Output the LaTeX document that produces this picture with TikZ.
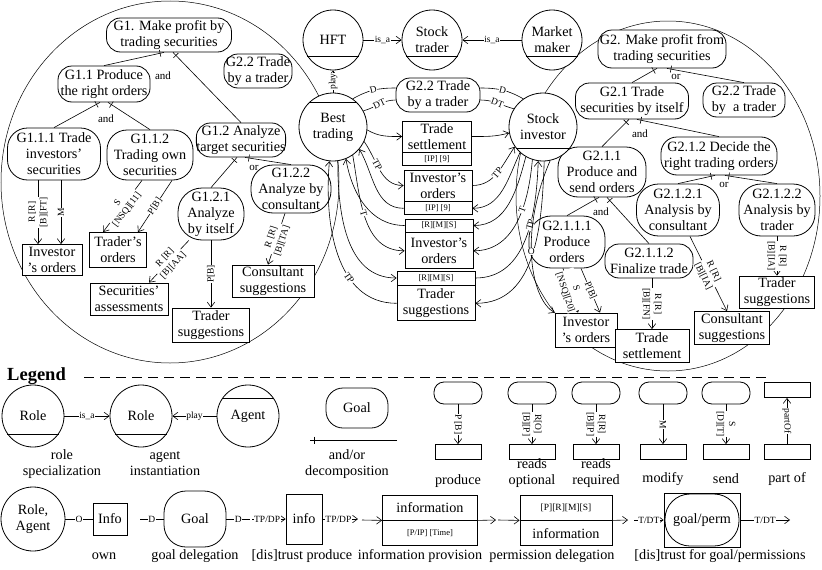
\documentclass[tikz,border=0pt]{standalone}
\usepackage{fontspec}
\setmainfont{Liberation Serif}
\usetikzlibrary{arrows.meta,decorations.markings,calc}
\newcommand\fmain{\fontsize{14.2}{16}\selectfont}
\newcommand\fsm{\fontsize{9.5}{11.5}\selectfont}
\newcommand\ftn{\fontsize{8.5}{9.5}\selectfont}
\newcommand\fand{\fontsize{11}{12}\selectfont}
\begin{document}
\begin{tikzpicture}[x=1pt,y=1pt,
 goal/.style={draw,fill=white,rectangle,rounded corners=14pt,line width=0.8pt,align=center,inner sep=0pt,font=\fmain},
 role/.style={draw,fill=white,circle,line width=0.8pt,align=center,inner sep=0pt,minimum size=60pt,font=\fmain},
 infob/.style={draw,fill=white,rectangle,line width=0.8pt,align=center,inner sep=0pt,font=\fmain},
 cmp/.style={draw,fill=white,rectangle,line width=0.8pt,align=center,inner sep=0pt,font=\ftn},
 lbl/.style={fill=white,inner sep=0.5pt,font=\fsm,align=center},
 andl/.style={font=\fand,inner sep=0pt},
 txt/.style={font=\fmain,align=center,inner sep=0pt},
 arr/.style={line width=0.6pt,-{Straight Barb[length=5pt,width=7.5pt]}},
 ln/.style={line width=0.6pt},
 chord/.style={line width=0.8pt},
 dec/.style={line width=0.6pt,postaction={decorate},decoration={markings,mark=at position -4pt with {\draw[line width=0.6pt] (0,-3.5pt) -- (0,3.5pt);}}},
 big/.style={line width=0.5pt},
 smallg/.style={draw,fill=white,rectangle,rounded corners=10pt,line width=0.8pt,minimum width=48pt,minimum height=22pt,inner sep=0pt},
 smallr/.style={draw,fill=white,rectangle,line width=0.8pt,minimum width=46pt,minimum height=15pt,inner sep=0pt},
]
\useasboundingbox (0,0) rectangle (822,-570);
% big ellipses
\draw[big] (170,-182) ellipse [x radius=169pt, y radius=181pt];
\draw[big] (668,-196) ellipse [x radius=152pt, y radius=175pt];

% ---------------- left group
\node[goal, minimum width=125pt, minimum height=34pt] (G1) at (169,-35) {G1. Make profit by\\trading securities};
\node[goal, minimum width=92pt, minimum height=36pt] (G11) at (104,-84) {G1.1 Produce\\the right orders};
\node[goal, minimum width=68pt, minimum height=34pt] (G22L) at (258,-71) {G2.2 Trade\\by a trader};
\node[goal, rounded corners=20pt, minimum width=93pt, minimum height=52pt] (G111) at (54,-154) {G1.1.1 Trade\\investors'\\securities};
\node[goal, rounded corners=20pt, minimum width=86pt, minimum height=50pt] (G112) at (150,-155) {G1.1.2\\Trading own\\securities};
\node[goal, minimum width=86pt, minimum height=34pt] (G12) at (241,-140) {G1.2 Analyze\\target securities};
\node[goal, rounded corners=24pt, minimum width=66pt, minimum height=52pt] (G121) at (211,-214) {G1.2.1\\Analyze\\by itself};
\node[goal, rounded corners=22pt, minimum width=80pt, minimum height=48pt] (G122) at (291,-189) {G1.2.2\\Analyze by\\consultant};
\node[infob, minimum width=60pt, minimum height=31pt] (IOL) at (52,-260) {Investor\\'s orders};
\node[infob, minimum width=57pt, minimum height=35pt] (TOL) at (118,-250) {Trader's\\orders};
\node[infob, minimum width=78pt, minimum height=32pt] (SAL) at (129,-299) {Securities'\\assessments};
\node[infob, minimum width=77pt, minimum height=34pt] (TSL) at (211,-325) {Trader\\suggestions};
\node[infob, minimum width=82pt, minimum height=32pt] (CSL) at (273,-281) {Consultant\\suggestions};

\draw[dec] (G11.north) -- ([xshift=-5pt]G1.south);
\draw[dec] (G12.north) -- ([xshift=4pt]G1.south);
\node[andl] at (163,-76) {and};
\draw[dec] (G111.north) -- ([xshift=-4pt]G11.south);
\draw[dec] (G112.north) -- ([xshift=4pt]G11.south);
\node[andl] at (106,-119) {and};
\draw[dec] (G121.north) -- ([xshift=-4pt]G12.south);
\draw[dec] (G122.north) -- ([xshift=4pt]G12.south);
\node[andl] at (254,-168) {or};

\draw[arr] ([xshift=-16pt]G111.south) -- node[lbl,rotate=90]{R [R]\\{}[B][FT]} ([xshift=-14pt]IOL.north);
\draw[arr] ([xshift=7pt]G111.south) -- node[lbl,rotate=90]{M} ([xshift=9pt]IOL.north);
\draw[arr] ([xshift=-8pt]G112.south) -- node[lbl,sloped]{S\\{}[NSQ][11]} ([xshift=-15pt]TOL.north);
\draw[arr] ([xshift=22pt]G112.south) -- node[lbl,sloped]{P[B]} ([xshift=20pt]TOL.north);
\draw[arr] (G121.230) -- node[lbl,sloped]{R [R]\\{}[B][AA]} ([xshift=20pt]SAL.north);
\draw[arr] (G121.south) -- node[lbl,rotate=90]{P[B]} (TSL.north);
\draw[arr] ([xshift=-6pt]G122.south) -- node[lbl,sloped]{R [R]\\{}[B][TA]} ([xshift=-5pt]CSL.north);

% ---------------- right group
\node[goal, minimum width=128pt, minimum height=38pt] (G2) at (662,-49) {G2. Make profit from\\trading securities};
\node[goal, minimum width=113pt, minimum height=36pt] (G21) at (632,-101) {G2.1 Trade\\securities by itself};
\node[goal, minimum width=82pt, minimum height=34pt] (G22R) at (744,-100) {G2.2 Trade\\by~ a trader};
\node[goal, rounded corners=20pt, minimum width=88pt, minimum height=50pt] (G211) at (602,-172) {G2.1.1\\Produce and\\send orders};
\node[goal, rounded corners=16pt, minimum width=116pt, minimum height=38pt] (G212) at (719,-156) {G2.1.2 Decide the\\right trading orders};
\node[goal, rounded corners=22pt, minimum width=83pt, minimum height=52pt] (G2121) at (678,-210) {G2.1.2.1\\Analysis by\\consultant};
\node[goal, rounded corners=22pt, minimum width=76pt, minimum height=52pt] (G2122) at (777,-210) {G2.1.2.2\\Analysis by\\trader};
\node[goal, rounded corners=22pt, minimum width=76pt, minimum height=52pt] (G2111) at (567,-242) {G2.1.1.1\\Produce\\orders};
\node[goal, minimum width=88pt, minimum height=34pt] (G2112) at (649,-261) {G2.1.1.2\\Finalize trade};
\node[infob, minimum width=62pt, minimum height=34pt] (IOR) at (586,-330) {Investor\\'s orders};
\node[infob, minimum width=74pt, minimum height=33pt] (TSR) at (652,-346) {Trade\\settlement};
\node[infob, minimum width=75pt, minimum height=33pt] (CSR) at (732,-328) {Consultant\\suggestions};
\node[infob, minimum width=75pt, minimum height=32pt] (TSugR) at (777,-292) {Trader\\suggestions};

\draw[dec] (G21.north) -- ([xshift=-5pt]G2.south);
\draw[dec] (G22R.north) -- ([xshift=5pt]G2.south);
\node[andl] at (676,-77) {or};
\draw[dec] (G211.north) -- ([xshift=-3pt]G21.south);
\draw[dec] (G212.north) -- ([xshift=5pt]G21.south);
\node[andl] at (640,-134) {and};
\draw[dec] (G2121.north) -- ([xshift=-4pt]G212.south);
\draw[dec] (G2122.north) -- ([xshift=6pt]G212.south);
\node[andl] at (724,-185) {or};
\draw[dec] (G2111.north) -- ([xshift=-3pt]G211.south);
\draw[dec] (G2112.north) -- ([xshift=5pt]G211.south);
\node[andl] at (601,-212) {and};

\draw[arr] ([xshift=-4pt]G2111.south) -- node[lbl,sloped]{S\\{}[NSQ][20]} ([xshift=-8pt]IOR.north);
\draw[arr] ([xshift=14pt]G2111.south) -- node[lbl,sloped]{P[B]} ([xshift=14pt]IOR.north);
\draw[arr] (G2112.south -| TSR.north) -- node[lbl,rotate=-90]{R [R]\\{}[B][FN]} (TSR.north);
\draw[arr] ([xshift=12pt]G2121.south) -- node[lbl,sloped]{R [R]\\{}[B][IA]} ([xshift=-5pt]CSR.north);
\draw[arr] (G2122.south) -- node[lbl,rotate=-90]{R [R]\\{}[B][IA]} (TSugR.north);

% ---------------- centre
\node[role] (HFT) at (333,-40) {HFT};
\node[role] (ST) at (432,-40) {Stock\\trader};
\node[role] (MM) at (552,-40) {Market\\maker};
\node[role, minimum size=68pt] (B) at (333,-127) {Best\\trading};
\node[role, minimum size=68pt] (S) at (543,-127) {Stock\\investor};
\draw[chord] (HFT.-32) -- (HFT.212);
\draw[chord] (ST.-32) -- (ST.212);
\draw[chord] (MM.-32) -- (MM.212);
\draw[chord] (B.45) -- (B.135);
\draw[chord] (S.-38) -- (S.218);
\draw[arr] (HFT) -- node[lbl]{is\_a} (ST);
\draw[arr] (MM) -- node[lbl]{is\_a} (ST);
\draw[arr] (B) -- node[lbl,rotate=90]{play} (HFT);

\node[goal, minimum width=84pt, minimum height=34pt] (G22C) at (438,-95) {G2.2 Trade\\by a trader};
\draw[ln] (B.55) to[out=30,in=180] node[lbl,sloped]{D} ([yshift=7pt]G22C.west);
\draw[ln] (B.28) to[out=15,in=180] node[lbl,sloped]{DT} ([yshift=-5pt]G22C.west);
\draw[ln] ([yshift=7pt]G22C.east) to[out=0,in=150] node[lbl,sloped]{D} (S.125);
\draw[ln] ([yshift=-5pt]G22C.east) to[out=0,in=165] node[lbl,sloped]{DT} (S.148);

\node[infob, minimum width=69pt, minimum height=31pt] (TS) at (437,-136.5) {Trade\\settlement};
\node[cmp, minimum width=69pt, minimum height=13pt, anchor=north] (TSb) at (TS.south) {[IP] [9]};
\node[infob, minimum width=68pt, minimum height=31pt] (IO) at (438,-185.5) {Investor’s\\orders};
\node[cmp, minimum width=68pt, minimum height=13pt, anchor=north] (IOb) at (IO.south) {[IP] [9]};
\node[cmp, minimum width=68pt, minimum height=13pt] (IRt) at (439,-225.5) {[R][M][S]};
\node[infob, minimum width=68pt, minimum height=36pt, anchor=north] (IR) at (IRt.south) {Investor’s\\orders};
\node[cmp, minimum width=78pt, minimum height=14pt] (TRt) at (436,-278) {[R][M][S]};
\node[infob, minimum width=78pt, minimum height=35pt, anchor=north] (TR) at (TRt.south) {Trader\\suggestions};

\draw[arr] (B.-5) to[out=-30,in=180] (TS.west);
\draw[arr] (B.-25) to[out=-55,in=180] node[lbl,sloped,pos=.4]{TP} (IO.west);
\draw[arr] (IOb.west) to[out=180,in=-60] (B.-40);
\draw[arr] (B.-55) to[out=-80,in=180] node[lbl,sloped,pos=.45]{T} (IR.west);
\draw[arr] (IRt.west) to[out=180,in=-80] (B.-68);
\draw[arr] (B.-82) to[out=-90,in=180] (TRt.west);
\draw[arr] (TR.west) to[out=180,in=-95] node[lbl,sloped,pos=.35]{TP} (B.-96);

\draw[arr] (TS.east) to[out=0,in=195] (S.190);
\draw[arr] (IO.east) to[out=0,in=235] node[lbl,sloped,pos=.5]{TP} (S.215);
\draw[arr] (S.228) to[out=245,in=0] (IOb.east);
\draw[arr] (S.240) to[out=255,in=0] (IRt.east);
\draw[arr] (S.252) to[out=265,in=0] node[lbl,sloped,pos=.4]{T} (IR.east);
\draw[arr] (TRt.east) to[out=0,in=268] node[lbl,sloped,pos=.6]{TP} (S.262);
\draw[arr] (S.272) to[out=268,in=0] (TR.east);
\draw[arr] (S.282) .. controls (518,-235) and (532,-300) .. node[lbl,pos=.45]{O} (IOR.north west);

% ---------------- legend
\node[font=\fontsize{18.5}{20}\selectfont\bfseries,inner sep=0pt,anchor=west] (LGT) at (7,-376) {Legend};
\coordinate (dl1) at (84,-377); \coordinate (dl2) at (772,-377);
\draw[line width=1pt, dash pattern=on 10pt off 6pt] (dl1) -- (dl2);

\node[role, minimum size=62pt] (LR1) at (33,-416) {Role};
\node[role, minimum size=62pt] (LR2) at (141,-416) {Role};
\node[role, minimum size=62pt] (LA) at (248,-416) {Agent};
\draw[chord] (LR1.-35) -- (LR1.215);
\draw[chord] (LR2.-35) -- (LR2.215);
\draw[chord] (LA.35) -- (LA.145);
\draw[arr] (LR1) -- node[lbl]{is\_a} (LR2);
\draw[arr] (LA) -- node[lbl]{play} (LR2);
\node[txt] at (62,-464) {role\\specialization};
\node[txt] at (165,-464) {agent\\instantiation};
\node[goal, rounded corners=17pt, minimum width=62pt, minimum height=40pt] (LG) at (357,-408) {Goal};
\coordinate (ao1) at (310,-440); \coordinate (ao2) at (397,-440);
\draw[dec] (ao2) -- (ao1);
\node[txt] at (347,-464) {and/or\\decomposition};

\node[smallg] (pg) at (458,-393) {}; \node[smallr] (pr) at (458,-452) {};
\draw[arr] (pg) -- node[lbl,rotate=-90]{P [B]} (pr);
\node[txt] at (458,-481) {produce};
\node[smallg] (og) at (532,-393) {}; \node[smallr] (orr) at (532,-452) {};
\draw[arr] (og) -- node[lbl,rotate=-90]{R[O]\\{}[B][P]} (orr);
\node[txt] at (532,-473) {reads\\optional};
\node[smallg] (rg) at (596,-393) {}; \node[smallr] (rr) at (596,-452) {};
\draw[arr] (rg) -- node[lbl,rotate=-90]{R[R]\\{}[B][P]} (rr);
\node[txt] at (596,-473) {reads\\required};
\node[smallg] (mg) at (663,-393) {}; \node[smallr] (mr) at (663,-452) {};
\draw[arr] (mg) -- node[lbl,rotate=-90]{M} (mr);
\node[txt] at (663,-479) {modify};
\node[smallg] (sg) at (726,-393) {}; \node[smallr] (sr) at (726,-452) {};
\draw[arr] (sg) -- node[lbl,rotate=-90]{S\\{}[D][T]} (sr);
\node[txt] at (726,-479) {send};
\node[smallr] (pt1) at (787,-390) {}; \node[smallr] (pt2) at (787,-452) {};
\draw[arr] (pt2) -- node[lbl,rotate=-90]{partOf} (pt1);
\node[txt] at (787,-479) {part of};

\node[role, minimum size=64pt] (LRA) at (33,-519) {Role,\\Agent};
\node[infob, minimum width=34pt, minimum height=32pt] (LInfo) at (110,-519) {Info};
\draw[ln] (LRA) -- node[lbl]{O} (LInfo);
\node[txt] at (104,-556) {own};
\coordinate (gd1) at (140,-519); \coordinate (gd2) at (250,-519);
\node[goal, rounded corners=22pt, minimum width=62pt, minimum height=56pt] (LGoal) at (195,-519) {Goal};
\draw[ln] (gd1) -- node[lbl]{D} (LGoal);
\draw[ln] (LGoal) -- node[lbl]{D} (gd2);
\node[txt] at (195,-556) {goal delegation};
\coordinate (tp1) at (252,-519); \coordinate (tp2) at (358,-519);
\node[infob, minimum width=36pt, minimum height=50pt] (LInfo2) at (304,-519) {info};
\draw[arr] (tp1) -- node[lbl,pos=.45]{TP/DP} (LInfo2);
\draw[arr] (LInfo2) -- node[lbl,pos=.45]{TP/DP} (tp2);
\node[txt] at (302,-556) {[dis]trust produce};
\node[infob, minimum width=95pt, minimum height=25pt] (LIPt) at (430,-507.5) {information};
\node[cmp, minimum width=95pt, minimum height=25pt, anchor=north] (LIPb) at (LIPt.south) {[P/IP] [Time]};
\coordinate (ip1) at (362,-520); \coordinate (ip2) at (496,-520);
\draw[arr] (ip1) -- (LIPt.south west);
\draw[arr] (LIPt.south east) -- (ip2);
\node[txt] at (420,-556) {information provision};
\node[cmp, font=\fsm, minimum width=92pt, minimum height=25pt] (LPDt) at (566,-507.5) {[P][R][M][S]};
\node[infob, minimum width=92pt, minimum height=25pt, anchor=north] (LPDb) at (LPDt.south) {information};
\coordinate (pd1) at (498,-520); \coordinate (pd2) at (628,-520);
\draw[arr] (pd1) -- (LPDt.south west);
\draw[arr] (LPDt.south east) -- (pd2);
\node[txt] at (552,-556) {permission delegation};
\coordinate (gp1) at (634,-520); \coordinate (gp2) at (790,-520);
\node[infob, minimum width=76pt, minimum height=54pt] (LGPr) at (702,-520) {};
\node[goal, rounded corners=25pt, minimum width=74pt, minimum height=52pt] (LGP) at (702,-520) {goal/perm};
\draw[arr] (gp1) -- node[lbl]{T/DT} (LGPr);
\draw[arr] (LGPr) -- node[lbl]{T/DT} (gp2);
\node[txt] at (720,-556) {[dis]trust for goal/permissions};
\end{tikzpicture}
\end{document}
